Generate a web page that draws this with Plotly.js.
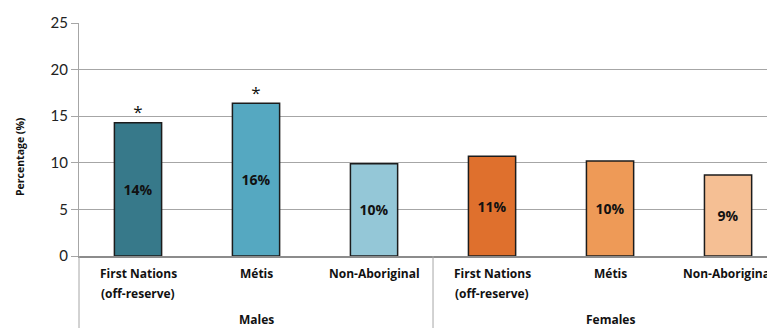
<!DOCTYPE html>
<html>
<head>
<meta charset="utf-8">
<script src="https://cdn.plot.ly/plotly-3.0.1.min.js"></script>
<style>
  html, body { margin: 0; padding: 0; background: #fff; overflow: hidden; }
  #chart { width: 767px; height: 328px; }
</style>
</head>
<body>
<div id="chart"></div>
<script>
// Share of population by sex and identity group (percent)
const groups = ['Males', 'Males', 'Males', 'Females', 'Females', 'Females'];
const categories = ['First Nations<br>(off-reserve)', 'Métis', 'Non-Aboriginal',
                    'First Nations<br>(off-reserve)', 'Métis', 'Non-Aboriginal'];
const values = [14.3, 16.4, 9.9, 10.7, 10.2, 8.7];
const significance = ['*', '*', '', '', '', ''];
const barColors = ['#37798a', '#55a8c1', '#94c7d7', '#df702d', '#ee9a57', '#f5bf94'];
const yTicks = [0, 5, 10, 15, 20, 25];

const FONT = 'Lato, "Open Sans", sans-serif';
const BOLD_FONT = '"Open Sans", Lato, sans-serif';
const xs = categories.map((_, i) => i);

const bars = {
  type: 'bar',
  x: xs,
  y: values,
  width: 0.4,
  marker: { color: barColors, line: { color: '#1c1c1c', width: 1.5 } },
  texttemplate: '<b>%{y:.0f}%</b>',
  textposition: 'inside',
  insidetextanchor: 'middle',
  textangle: 0,
  textfont: { family: BOLD_FONT, size: 14, color: '#111' },
  hoverinfo: 'skip'
};

const stars = {
  type: 'scatter',
  mode: 'text',
  x: xs,
  y: values,
  text: significance,
  textposition: 'top center',
  textfont: { family: BOLD_FONT, size: 17, color: '#111' },
  hoverinfo: 'skip'
};

// Category labels under each bar, one annotation per line for exact spacing
const annotations = [];
categories.forEach((c, i) => {
  c.split('<br>').forEach((line, k) => {
    annotations.push({
      xref: 'x', yref: 'paper', x: i, y: 0,
      yshift: -17 - 20 * k, yanchor: 'middle',
      text: '<b>' + line + '</b>', showarrow: false,
      font: { family: BOLD_FONT, size: 12, color: '#111' }
    });
  });
});

// Group labels centred under each block of categories
const groupNames = [...new Set(groups)];
groupNames.forEach(g => {
  const idx = xs.filter(i => groups[i] === g);
  const mid = (idx[0] + idx[idx.length - 1]) / 2;
  annotations.push({
    xref: 'x', yref: 'paper', x: mid, y: 0, yshift: -63, yanchor: 'middle',
    text: '<b>' + g + '</b>', showarrow: false,
    font: { family: BOLD_FONT, size: 12, color: '#111' }
  });
});

annotations.push({
  xref: 'paper', yref: 'paper', x: 0, xshift: -59, y: 0.425,
  xanchor: 'center', yanchor: 'middle', textangle: -90,
  text: '<b>Percentage (%)</b>', showarrow: false,
  font: { family: BOLD_FONT, size: 10.5, color: '#111' }
});

// Divider between the two groups and the extended left axis line
const shapes = [
  { type: 'line', xref: 'paper', yref: 'paper', x0: 0, x1: 0, y0: 0, y1: -0.32,
    line: { color: '#a6a6a6', width: 1 } }
];
for (let i = 1; i < groups.length; i++) {
  if (groups[i] !== groups[i - 1]) {
    shapes.push({ type: 'line', xref: 'x', yref: 'paper', x0: i - 0.5, x1: i - 0.5,
      y0: 0, y1: -0.32, line: { color: '#a6a6a6', width: 1 } });
  }
}

const layout = {
  width: 767, height: 328,
  margin: { l: 79, r: 0, t: 23, b: 72 },
  paper_bgcolor: '#fff', plot_bgcolor: '#fff',
  showlegend: false,
  xaxis: {
    range: [-0.5, 5.33],
    showticklabels: false, showgrid: false, zeroline: false,
    showline: true, linecolor: '#8c8c8c', linewidth: 2, fixedrange: true
  },
  yaxis: {
    range: [0, 25], tickvals: yTicks,
    showgrid: true, gridcolor: '#a6a6a6', gridwidth: 1,
    zeroline: false, showline: true, linecolor: '#a6a6a6', linewidth: 1,
    ticks: 'outside', ticklen: 7, tickcolor: '#a6a6a6',
    tickfont: { family: FONT, size: 15, color: '#222' }, fixedrange: true
  },
  annotations: annotations,
  shapes: shapes
};

Plotly.newPlot('chart', [bars, stars], layout, { displayModeBar: false, staticPlot: true });
</script>
</body>
</html>
